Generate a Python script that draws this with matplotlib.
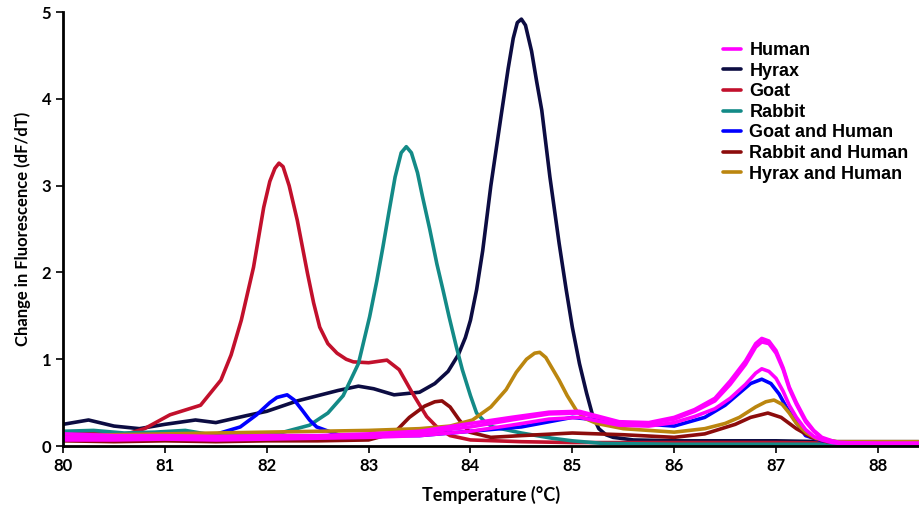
import numpy as np
import matplotlib.pyplot as plt

# melt curves (temperature in degC, dF/dT)
hyrax_x = [80.0, 80.25, 80.5, 80.75, 81.0, 81.3, 81.5, 81.8, 82.0, 82.3, 82.5, 82.7, 82.9, 83.05,
           83.25, 83.5, 83.65, 83.78, 83.88, 83.95, 84.0, 84.06, 84.12, 84.2, 84.3, 84.37, 84.42,
           84.46, 84.5, 84.54, 84.6, 84.65, 84.7, 84.78, 84.87, 84.94, 85.0, 85.07, 85.14, 85.2,
           85.26, 85.33, 85.4, 85.6, 86.0, 86.5, 87.0, 87.5, 88.0, 88.4]
hyrax_y = [0.25, 0.30, 0.23, 0.20, 0.25, 0.30, 0.27, 0.35, 0.40, 0.52, 0.58, 0.64, 0.69, 0.66,
           0.59, 0.62, 0.72, 0.86, 1.05, 1.25, 1.45, 1.80, 2.25, 3.00, 3.80, 4.35, 4.70,
           4.88, 4.92, 4.85, 4.55, 4.20, 3.87, 3.10, 2.34, 1.80, 1.37, 0.95, 0.61, 0.35,
           0.20, 0.13, 0.10, 0.07, 0.06, 0.06, 0.06, 0.05, 0.05, 0.05]

goat_x = [80.0, 80.3, 80.6, 80.8, 81.05, 81.35, 81.55, 81.65, 81.75, 81.87, 81.97, 82.03, 82.08,
          82.12, 82.16, 82.22, 82.3, 82.4, 82.46, 82.52, 82.6, 82.69, 82.78, 82.85, 83.0, 83.18,
          83.3, 83.43, 83.57, 83.67, 83.8, 84.0, 84.5, 85.0, 86.0, 87.0, 88.0, 88.4]
goat_y = [0.13, 0.16, 0.13, 0.20, 0.36, 0.47, 0.76, 1.05, 1.45, 2.06, 2.75, 3.05, 3.20,
          3.26, 3.22, 3.00, 2.60, 1.99, 1.65, 1.37, 1.18, 1.07, 1.00, 0.97, 0.96, 0.99,
          0.88, 0.61, 0.34, 0.22, 0.12, 0.07, 0.05, 0.04, 0.04, 0.04, 0.03, 0.03]

rabbit_x = [80.0, 80.3, 80.6, 80.9, 81.2, 81.5, 81.8, 82.1, 82.42, 82.6, 82.75, 82.9, 83.01,
            83.08, 83.14, 83.2, 83.26, 83.32, 83.37, 83.42, 83.48, 83.53, 83.6, 83.67, 83.73,
            83.79, 83.86, 83.92, 84.0, 84.06, 84.14, 84.22, 84.5, 84.8, 85.0, 85.3, 86.0,
            87.0, 88.0, 88.4]
rabbit_y = [0.17, 0.18, 0.15, 0.16, 0.18, 0.12, 0.12, 0.14, 0.24, 0.38, 0.58, 0.95, 1.49,
            1.90, 2.29, 2.70, 3.10, 3.38, 3.45, 3.38, 3.15, 2.87, 2.50, 2.10, 1.80,
            1.49, 1.15, 0.88, 0.58, 0.38, 0.28, 0.22, 0.15, 0.09, 0.06, 0.03, 0.02,
            0.02, 0.02, 0.02]

goat_human_x = [80.0, 80.5, 81.0, 81.4, 81.74, 81.9, 82.03, 82.1, 82.2, 82.27, 82.35, 82.42, 82.49,
                82.7, 83.0, 83.5, 84.0, 84.5, 85.0, 85.5, 86.0, 86.3, 86.5, 86.64, 86.75, 86.86,
                86.95, 87.03, 87.1, 87.2, 87.29, 87.45, 87.7, 88.0, 88.4]
goat_human_y = [0.12, 0.10, 0.10, 0.10, 0.22, 0.36, 0.50, 0.56, 0.59, 0.53, 0.41, 0.30, 0.22,
                0.13, 0.12, 0.12, 0.17, 0.22, 0.33, 0.27, 0.23, 0.33, 0.47, 0.61, 0.72, 0.77,
                0.72, 0.60, 0.45, 0.27, 0.12, 0.06, 0.04, 0.04, 0.04]

rabbit_human_x = [80.0, 80.5, 81.0, 81.5, 82.0, 82.5, 83.0, 83.25, 83.4, 83.55, 83.65, 83.72,
                  83.8, 83.89, 83.99, 84.2, 84.5, 85.0, 85.5, 86.0, 86.3, 86.6, 86.75, 86.92,
                  87.05, 87.2, 87.35, 87.5, 88.0, 88.4]
rabbit_human_y = [0.06, 0.05, 0.06, 0.05, 0.06, 0.06, 0.07, 0.15, 0.33, 0.46, 0.51, 0.52,
                  0.45, 0.30, 0.16, 0.10, 0.12, 0.15, 0.13, 0.10, 0.14, 0.25, 0.33, 0.38,
                  0.33, 0.20, 0.10, 0.05, 0.03, 0.03]

hyrax_human_x = [80.0, 80.5, 81.0, 81.5, 82.0, 82.5, 83.0, 83.5, 83.8, 84.02, 84.2, 84.35, 84.45,
                 84.55, 84.63, 84.68, 84.74, 84.8, 84.87, 84.95, 85.04, 85.12, 85.24, 85.5, 86.0,
                 86.3, 86.5, 86.64, 86.8, 86.9, 86.98, 87.06, 87.13, 87.2, 87.3, 87.39, 87.6,
                 88.0, 88.4]
hyrax_human_y = [0.12, 0.13, 0.14, 0.15, 0.16, 0.17, 0.18, 0.20, 0.23, 0.30, 0.45, 0.65, 0.85,
                 1.00, 1.07, 1.08, 1.02, 0.90, 0.76, 0.58, 0.41, 0.32, 0.26, 0.20, 0.16,
                 0.20, 0.26, 0.33, 0.45, 0.51, 0.53, 0.48, 0.38, 0.26, 0.15, 0.09, 0.05,
                 0.05, 0.05]

# three human replicates share the same temperature grid
human_x = [80.0, 80.5, 81.0, 81.5, 82.0, 82.5, 83.0, 83.5, 84.0, 84.4, 84.77, 85.07, 85.46,
           85.75, 86.0, 86.2, 86.4, 86.55, 86.7, 86.8, 86.86, 86.93, 87.0, 87.07, 87.13, 87.2,
           87.29, 87.37, 87.45, 87.55, 87.62, 88.0, 88.4]
human1_y = [0.14, 0.12, 0.12, 0.11, 0.12, 0.12, 0.14, 0.17, 0.26, 0.33, 0.39, 0.40, 0.28,
            0.27, 0.33, 0.42, 0.55, 0.75, 0.98, 1.18, 1.24, 1.21, 1.10, 0.90, 0.68, 0.50,
            0.30, 0.18, 0.10, 0.06, 0.04, 0.03, 0.03]
human2_y = [0.10, 0.09, 0.10, 0.09, 0.10, 0.11, 0.12, 0.15, 0.22, 0.30, 0.37, 0.38, 0.27,
            0.26, 0.31, 0.40, 0.52, 0.71, 0.94, 1.14, 1.20, 1.18, 1.07, 0.88, 0.66, 0.48,
            0.28, 0.17, 0.09, 0.05, 0.04, 0.03, 0.03]
human3_y = [0.07, 0.07, 0.08, 0.07, 0.08, 0.09, 0.10, 0.12, 0.17, 0.24, 0.31, 0.33, 0.24,
            0.23, 0.27, 0.34, 0.43, 0.55, 0.71, 0.84, 0.89, 0.86, 0.78, 0.63, 0.47, 0.33,
            0.19, 0.11, 0.07, 0.04, 0.03, 0.03, 0.03]

c_human = '#ff00ff'
c_hyrax = '#0c0c42'
c_goat = '#c2102c'
c_rabbit = '#138a87'
c_goat_human = '#0000ff'
c_rabbit_human = '#8c0c0c'
c_hyrax_human = '#bb860f'

LW = 2.6

fig = plt.figure(figsize=(9.19, 5.08), dpi=100)
ax = fig.add_axes([0.0686, 0.122, 0.931, 0.854])

kw = dict(lw=LW, solid_joinstyle='round', solid_capstyle='round')
h_hyrax, = ax.plot(hyrax_x, hyrax_y, color=c_hyrax, label='Hyrax', **kw)
h_goat, = ax.plot(goat_x, goat_y, color=c_goat, label='Goat', **kw)
h_rabbit, = ax.plot(rabbit_x, rabbit_y, color=c_rabbit, label='Rabbit', **kw)
h_gh, = ax.plot(goat_human_x, goat_human_y, color=c_goat_human, label='Goat and Human', **kw)
h_rh, = ax.plot(rabbit_human_x, rabbit_human_y, color=c_rabbit_human, label='Rabbit and Human', **kw)
h_hh, = ax.plot(hyrax_human_x, hyrax_human_y, color=c_hyrax_human, label='Hyrax and Human', **kw)
h_human, = ax.plot(human_x, human1_y, color=c_human, label='Human', **kw)
ax.plot(human_x, human2_y, color=c_human, **kw)
ax.plot(human_x, human3_y, color=c_human, **kw)

ax.set_xlim(80, 88.4)
ax.set_ylim(0, 5)
ax.set_xticks(range(80, 89))
ax.set_yticks(range(0, 6))

for s in ['top', 'right']:
    ax.spines[s].set_visible(False)
for s in ['left', 'bottom']:
    ax.spines[s].set_linewidth(2)
ax.tick_params(width=1.2, length=5, labelsize=12)
for lab in ax.get_xticklabels() + ax.get_yticklabels():
    lab.set_fontfamily('Lato')
    lab.set_fontweight('bold')

ax.set_xlabel('Temperature (°C)', fontsize=13, fontweight='bold', family='Lato', labelpad=9)
ax.set_ylabel('Change in Fluorescence (dF/dT)', fontsize=12, fontweight='bold', family='Lato', labelpad=8)

handles = [h_human, h_hyrax, h_goat, h_rabbit, h_gh, h_rh, h_hh]
fig.legend(handles=handles, loc='upper left', bbox_to_anchor=(0.777, 0.935), frameon=False,
           prop={'family': 'Liberation Sans', 'weight': 'bold', 'size': 13},
           handlelength=1.0, handletextpad=0.45, labelspacing=0.2, borderpad=0)

fig.savefig('out.png', dpi=100)
